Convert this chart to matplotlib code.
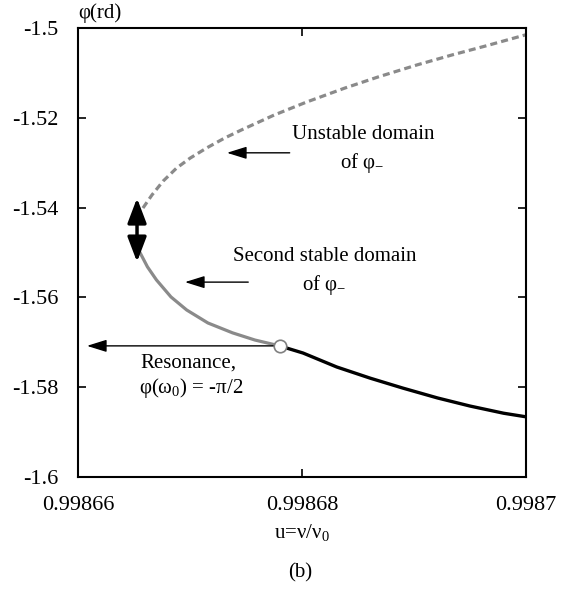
import matplotlib
matplotlib.use("Agg")
import matplotlib.pyplot as plt

plt.rcParams['font.family'] = ['Liberation Serif', 'DejaVu Serif']
plt.rcParams['mathtext.fontset'] = 'custom'
plt.rcParams['mathtext.rm'] = 'Liberation Serif'
plt.rcParams['mathtext.it'] = 'Liberation Serif:italic'

# unstable branch (dashed grey)
unstable_u = [0.9986658, 0.9986666, 0.9986676, 0.9986688, 0.9986700, 0.9986715,
              0.9986731, 0.9986746, 0.9986775, 0.9986804, 0.9986838, 0.9986868,
              0.9986903, 0.9986934, 0.9986964, 0.9987]
unstable_phi = [-1.5401, -1.5372, -1.5341, -1.5312, -1.5290, -1.5267,
                -1.5245, -1.5227, -1.5194, -1.5165, -1.5134, -1.5109,
                -1.5082, -1.5060, -1.5040, -1.5015]

# second stable branch (solid grey)
stable2_u = [0.99866555, 0.9986662, 0.9986670, 0.9986683, 0.9986697, 0.9986716,
             0.9986738, 0.9986758, 0.9986780]
stable2_phi = [-1.5501, -1.5532, -1.5561, -1.5599, -1.5628, -1.5657,
               -1.5679, -1.5695, -1.5708]

# first stable branch (solid black)
stable1_u = [0.9986780, 0.9986801, 0.9986831, 0.9986861, 0.9986890, 0.9986921,
             0.9986950, 0.9986980, 0.9987]
stable1_phi = [-1.5708, -1.5724, -1.5755, -1.5780, -1.5802, -1.5824,
               -1.5842, -1.5858, -1.5866]

res_u = 0.998678
res_phi = -1.5708

xticks = [0.99866, 0.99868, 0.9987]
xtick_labels = ['0.99866', '0.99868', '0.9987']
yticks = [-1.6, -1.58, -1.56, -1.54, -1.52, -1.5]
ytick_labels = ['-1.6', '-1.58', '-1.56', '-1.54', '-1.52', '-1.5']

fig = plt.figure(figsize=(5.83, 5.92), dpi=100)
ax = fig.add_axes([0.1338, 0.1943, 0.7684, 0.7584])

ax.plot(unstable_u, unstable_phi, color='#8a8a8a', lw=2.3, ls=(0, (2.2, 1.3)))
ax.plot(stable2_u, stable2_phi, color='#8a8a8a', lw=2.3)
ax.plot(stable1_u, stable1_phi, color='black', lw=2.4)
ax.plot([res_u], [res_phi], marker='o', ms=9, mfc='white', mec='#808080', mew=1.2, zorder=5)

# jump arrow at the turning point
ax.annotate('', xy=(0.99866527, -1.5379), xytext=(0.99866527, -1.5521),
            arrowprops=dict(arrowstyle='<|-|>,head_length=1.0,head_width=0.38',
                            color='black', lw=2.5, mutation_scale=15,
                            shrinkA=0, shrinkB=0))

thin = dict(arrowstyle='-|>,head_length=0.8,head_width=0.25', color='black',
            lw=1.0, mutation_scale=15, shrinkA=0, shrinkB=0)
ax.annotate('', xy=(0.9986733, -1.5278), xytext=(0.9986789, -1.5278), arrowprops=thin)
ax.annotate('', xy=(0.99866955, -1.5566), xytext=(0.9986752, -1.5566), arrowprops=thin)
ax.annotate('', xy=(0.9986608, res_phi), xytext=(res_u - 0.0000005, res_phi), arrowprops=thin)

ax.text(0.9986855, -1.5238, 'Unstable domain', ha='center', va='center', fontsize=15)
ax.text(0.9986854, -1.5300, r'of φ$_{-}$', ha='center', va='center', fontsize=15)
ax.text(0.9986820, -1.5510, 'Second stable domain', ha='center', va='center', fontsize=15)
ax.text(0.9986820, -1.5572, r'of φ$_{-}$', ha='center', va='center', fontsize=15)
ax.text(0.9986699, -1.5746, 'Resonance,', ha='center', va='center', fontsize=15)
ax.text(0.9986701, -1.5801, r'φ(ω$_0$) = -π/2', ha='center', va='center', fontsize=15)

ax.set_xlim(0.99866, 0.9987)
ax.set_ylim(-1.6, -1.5)
ax.set_xticks(xticks)
ax.set_xticklabels(xtick_labels)
ax.set_yticks(yticks)
ax.set_yticklabels(ytick_labels)
ax.tick_params(direction='in', length=6, width=1.2, top=True, right=True,
               labelsize=16, pad=14)
for s in ax.spines.values():
    s.set_linewidth(1.5)

fig.text(0.1338, 0.978, 'φ(rd)', ha='left', va='center', fontsize=15)
fig.text(0.518, 0.101, r'u=ν/ν$_0$', ha='center', va='center', fontsize=15)
fig.text(0.515, 0.032, '(b)', ha='center', va='center', fontsize=15)

fig.savefig('out.png', dpi=100)
